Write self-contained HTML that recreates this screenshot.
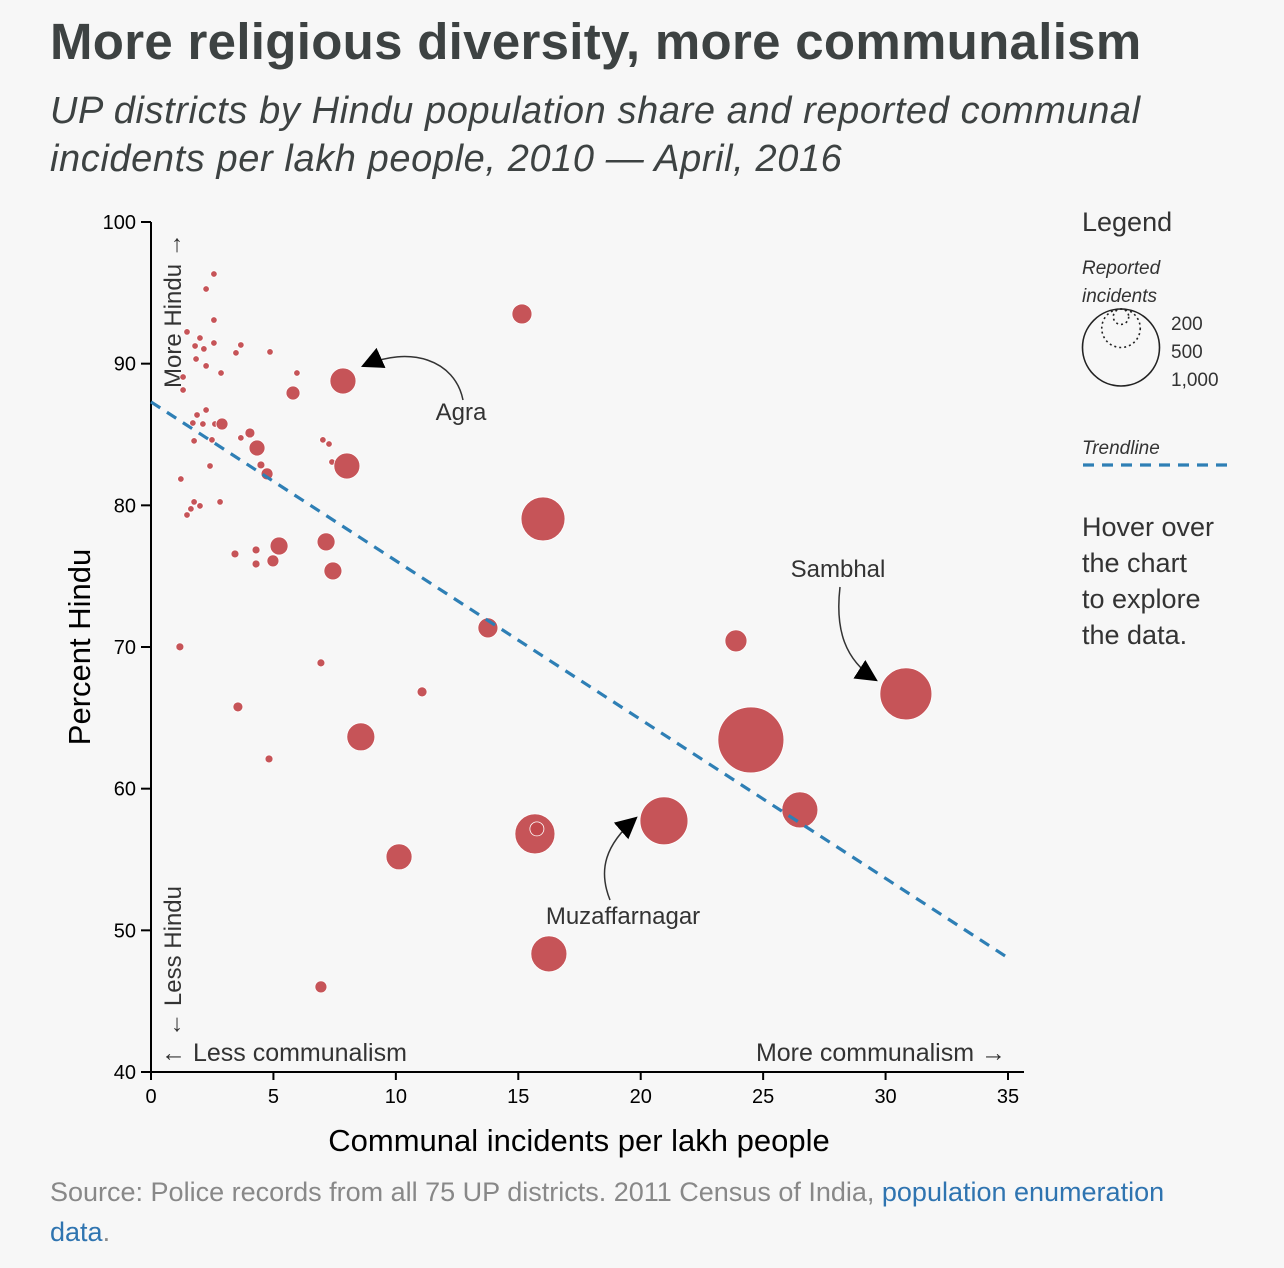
<!DOCTYPE html>
<html><head><meta charset="utf-8">
<style>
html,body{margin:0;padding:0;background:#f7f7f7;}
body{width:1284px;height:1268px;position:relative;overflow:hidden;font-family:"Liberation Sans",sans-serif;}
#title{position:absolute;left:50px;top:12px;font-size:51px;font-weight:bold;color:#3d4242;letter-spacing:0.3px;margin:0;white-space:nowrap;}
#sub{position:absolute;left:50px;top:87px;font-size:38px;font-style:italic;color:#3d4242;line-height:48px;margin:0;letter-spacing:0.6px;white-space:nowrap;}
#src{position:absolute;left:50px;top:1172px;font-size:27px;color:#888;line-height:40px;width:1180px;}
#src a{color:#2f74b0;text-decoration:none;}
svg{position:absolute;left:0;top:0;}
</style></head><body>
<h1 id="title">More religious diversity, more communalism</h1>
<p id="sub">UP districts by Hindu population share and reported communal<br>incidents per lakh people, 2010 — April, 2016</p>
<svg id="chart" width="1284" height="1268"></svg>
<div id="src">Source: Police records from all 75 UP districts. 2011 Census of India, <a>population enumeration data</a>.</div>
<script>
const xVals=[2.57,2.25,2.57,1.47,2.00,1.80,2.16,2.57,3.67,3.47,4.86,1.84,2.25,2.86,1.31,1.31,5.96,5.80,7.84,2.25,1.88,1.71,2.12,2.61,2.90,4.04,3.67,2.49,1.76,4.33,4.49,4.74,7.02,7.27,7.39,8.00,2.41,1.22,1.76,2.00,1.63,1.47,2.82,3.43,4.29,4.29,5.23,4.98,7.15,7.43,15.15,16.01,23.89,30.83,24.50,26.50,20.95,15.68,15.76,10.13,16.25,8.57,13.76,11.07,6.94,1.18,3.55,4.82,6.94];
const yVals=[96.33,95.27,93.08,92.24,91.81,91.25,91.04,91.46,91.32,90.76,90.83,90.33,89.84,89.34,89.06,88.14,89.34,87.93,88.78,86.73,86.38,85.81,85.74,85.74,85.74,85.11,84.76,84.62,84.55,84.05,82.85,82.22,84.62,84.33,83.06,82.78,82.78,81.86,80.24,79.96,79.75,79.32,80.24,76.57,76.85,75.86,77.13,76.08,77.42,75.37,93.51,79.04,70.43,66.69,63.44,58.50,57.73,56.81,57.16,55.19,48.34,63.66,71.35,66.83,68.88,70.01,65.77,62.10,46.01];
const incidents=[85,85,85,85,85,85,85,85,85,85,85,85,85,85,85,85,85,182,338,85,85,85,85,85,156,130,85,85,85,208,104,156,85,85,85,338,85,85,85,85,85,85,85,104,104,104,234,156,234,234,260,571,286,675,857,468,623,520,182,338,468,364,260,130,104,104,130,104,156];
const xTicks=[0,5,10,15,20,25,30,35];
const yTicks=[40,50,60,70,80,90,100];
const trend=[87.3,48.06];
const NS="http://www.w3.org/2000/svg";
const svg=document.getElementById('chart');
const X0=151,X1=1008,Y0=1072,Y1=222;
const xs=v=>X0+(v-0)/35*(X1-X0);
const ys=v=>Y0-(v-40)/60*(Y0-Y1);
const rs=v=>v*0.0385;
function el(t,a,p){const e=document.createElementNS(NS,t);for(const k in a)e.setAttribute(k,a[k]);(p||svg).appendChild(e);return e;}
function txt(s,a){const e=el('text',a);e.textContent=s;return e;}
let ax=el('line',{x1:X0,y1:Y1,x2:X0,y2:Y0,stroke:'#000','stroke-width':2});

ax=el('line',{x1:X0,y1:Y0,x2:1024,y2:Y0,stroke:'#000','stroke-width':2});

xTicks.forEach(t=>{el('line',{x1:xs(t),x2:xs(t),y1:Y0,y2:Y0+8,stroke:'#000','stroke-width':2});
 const l=txt(String(t),{x:xs(t),y:Y0+31,'text-anchor':'middle','font-size':20,fill:'#000'});
 });
yTicks.forEach(t=>{el('line',{x1:X0-10,x2:X0,y1:ys(t),y2:ys(t),stroke:'#000','stroke-width':2});
 const l=txt(String(t),{x:X0-15,y:ys(t)+7,'text-anchor':'end','font-size':20,fill:'#000'});
 });
let t1=txt('Communal incidents per lakh people',{x:579,y:1151,'text-anchor':'middle','font-size':31,fill:'#000'});

t1=txt('Percent Hindu',{x:0,y:0,'text-anchor':'middle','font-size':31,fill:'#000',transform:'translate(90,647) rotate(-90)'});

t1=txt('More Hindu →',{x:0,y:0,'text-anchor':'start','font-size':24,fill:'#333',transform:'translate(181,388) rotate(-90)'});

t1=txt('← Less Hindu',{x:0,y:0,'text-anchor':'end','font-size':24,fill:'#333',transform:'translate(181,886) rotate(-90)'});

t1=txt('← Less communalism',{x:161,y:1061,'font-size':25,fill:'#333'});

t1=txt('More communalism →',{x:1006,y:1061,'text-anchor':'end','font-size':25,fill:'#333'});

for(let i=0;i<xVals.length;i++){
 const c=el('circle',{cx:xs(xVals[i]),cy:ys(yVals[i]),r:rs(incidents[i]),fill:'#c2474b','fill-opacity':0.93,stroke:'#fff','stroke-width':0.8});
 
 
}
const tl=el('line',{x1:xs(0),y1:ys(trend[0]),x2:xs(35),y2:ys(trend[1]),stroke:'#2e7fb5','stroke-width':3.2,'stroke-dasharray':'11 8'});

const defs=el('defs',{});
const m=el('marker',{id:'ah',viewBox:'0 0 10 10',refX:9,refY:5,markerWidth:22,markerHeight:22,orient:'auto',markerUnits:'userSpaceOnUse'},defs);
el('path',{d:'M0,0 L10,5 L0,10 z',fill:'#000'},m);
function ann(d,name){const p=el('path',{d:d,fill:'none',stroke:'#333','stroke-width':1.5,'marker-end':'url(#ah)'});}
ann('M463,400 C455,360 410,345 363,366','agra-arrow');
ann('M840,587 C835,630 845,660 876,680','sambhal-arrow');
ann('M610,900 C598,870 605,845 636,818','muzaffarnagar-arrow');
t1=txt('Agra',{x:461,y:420,'text-anchor':'middle','font-size':24,fill:'#333'});

t1=txt('Sambhal',{x:838,y:577,'text-anchor':'middle','font-size':24,fill:'#333'});

t1=txt('Muzaffarnagar',{x:623,y:924,'text-anchor':'middle','font-size':24,fill:'#333'});

const lg=el('g',{});
function lt(s,a){const e=el('text',a,lg);e.textContent=s;return e;}
lt('Legend',{x:1082,y:231,'font-size':27,fill:'#333'});
lt('Reported',{x:1082,y:274,'font-size':19,'font-style':'italic',fill:'#333'});
lt('incidents',{x:1082,y:302,'font-size':19,'font-style':'italic',fill:'#333'});
[[1000,'none'],[500,'2 3'],[200,'2 3']].forEach(([v,da])=>{const r=rs(v);
 el('circle',{cx:1121,cy:309+r,r:r,fill:'none',stroke:'#222','stroke-width':1.6,'stroke-dasharray':da},lg);});
lt('200',{x:1171,y:330,'font-size':19,fill:'#333'});
lt('500',{x:1171,y:358,'font-size':19,fill:'#333'});
lt('1,000',{x:1171,y:386,'font-size':19,fill:'#333'});
lt('Trendline',{x:1082,y:454,'font-size':19,'font-style':'italic',fill:'#333'});
el('line',{x1:1083,y1:465,x2:1230,y2:465,stroke:'#2e7fb5','stroke-width':3.2,'stroke-dasharray':'11 8'},lg);
['Hover over','the chart','to explore','the data.'].forEach((s,i)=>lt(s,{x:1082,y:536+i*36,'font-size':27,fill:'#333'}));
</script>
</body></html>
